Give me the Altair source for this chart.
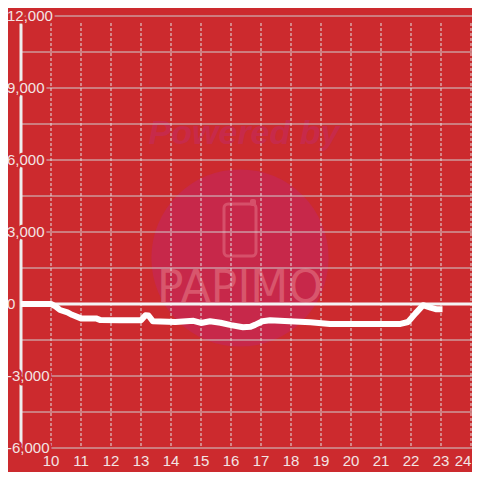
import altair as alt
import pandas as pd

# ---- data ----
hours = [9.0, 10.0, 10.15, 10.3, 10.55, 10.7, 11.0, 11.5, 11.65, 12.3, 13.0, 13.15, 13.25, 13.4,
         14.15, 14.75, 15.0, 15.3, 15.65, 16.0, 16.4, 16.65, 16.8, 17.05, 17.3, 17.95, 18.65,
         19.3, 20.3, 21.65, 21.9, 22.15, 22.4, 22.65, 22.85, 23.05]
values = [0, 0, -100, -250, -350, -450, -600, -600, -670, -680, -680, -470, -480, -720,
          -750, -700, -790, -720, -780, -880, -970, -950, -870, -720, -680, -720, -760,
          -830, -830, -830, -750, -390, -50, -150, -220, -220]

x_ticks = list(range(10, 25))
y_grid = [-6000, -4500, -3000, -1500, 0, 1500, 3000, 4500, 6000, 7500, 9000, 10500, 12000]
y_ticks = [-6000, -3000, 0, 3000, 6000, 9000, 12000]
y_tick_labels = ["-6,000", "-3,000", "0", "3,000", "6,000", "9,000", "12,000"]

BG = "#cc2a2e"
LABEL = "#f3e4e4"

xs = alt.Scale(domain=[9, 9 + 451 / 30], nice=False, zero=False)
ys = alt.Scale(domain=[-6000, 12000], nice=False, zero=False)

series = pd.DataFrame({"hour": hours, "value": values})
vgrid = pd.DataFrame({"hour": x_ticks})
hgrid = pd.DataFrame({"value": y_grid})
ylab = pd.DataFrame({"value": y_ticks, "label": y_tick_labels, "hour": [9] * len(y_ticks)})
xlab = pd.DataFrame({"hour": x_ticks[:-1], "value": [-6000] * (len(x_ticks) - 1)})
xlab_last = pd.DataFrame({"hour": x_ticks[-1:], "value": [-6000]})
axis_df = pd.DataFrame({"hour": [9]})
zero_df = pd.DataFrame({"value": [0]})
one = pd.DataFrame({"a": [0]})

# watermark
circle = alt.Chart(one).mark_circle(size=31416, opacity=1, color="#c7284a").encode(
    x=alt.value(219), y=alt.value(242))
powered = alt.Chart(one).mark_text(
    text="Powered by", font="Liberation Sans", fontSize=34, fontWeight="bold",
    fontStyle="italic", color="#c72a4a", align="center", baseline="middle").encode(
    x=alt.value(223), y=alt.value(118))
phone = alt.Chart(one).mark_rect(
    fillOpacity=0, stroke="#d6506a", strokeWidth=3, cornerRadius=4).encode(
    x=alt.value(203), x2=alt.value(235), y=alt.value(188), y2=alt.value(240))
notch = alt.Chart(one).mark_rect(color="#d6506a", cornerRadius=2).encode(
    x=alt.value(229), x2=alt.value(235), y=alt.value(183), y2=alt.value(190))
papimo = alt.Chart(one).mark_text(
    text="PAPIMO", font="Liberation Sans Narrow, DejaVu Sans", fontSize=44,
    color="#d8566c", align="center", baseline="middle").encode(
    x=alt.value(219), y=alt.value(273))

# grid
hlines = alt.Chart(hgrid).mark_rule(color="#cfcfcf", strokeWidth=1).encode(
    y=alt.Y("value:Q", scale=ys, axis=None))
vlines = alt.Chart(vgrid).mark_rule(color="#e2e2e2", strokeWidth=1, strokeDash=[3, 2]).encode(
    x=alt.X("hour:Q", scale=xs, axis=None), y=alt.value(7), y2=alt.value(432))
axis_line = alt.Chart(axis_df).mark_rule(color="#eeeeee", strokeWidth=3).encode(
    x=alt.X("hour:Q", scale=xs, axis=None))
zero_line = alt.Chart(zero_df).mark_rule(color="#f4f4f4", strokeWidth=3).encode(
    y=alt.Y("value:Q", scale=ys, axis=None))

line = alt.Chart(series).mark_line(color="white", strokeWidth=6, strokeJoin="round").encode(
    x=alt.X("hour:Q", scale=xs, axis=None),
    y=alt.Y("value:Q", scale=ys, axis=None))

# y labels with masking halo
ymask = alt.Chart(ylab).mark_text(
    align="left", baseline="middle", font="Liberation Sans", fontSize=15,
    dx=-14, stroke=BG, strokeWidth=5, strokeJoin="round", fill=BG).encode(
    x=alt.X("hour:Q", scale=xs, axis=None), y=alt.Y("value:Q", scale=ys, axis=None),
    text="label:N")
ytext = alt.Chart(ylab).mark_text(
    align="left", baseline="middle", font="Liberation Sans", fontSize=15,
    dx=-14, color=LABEL).encode(
    x=alt.X("hour:Q", scale=xs, axis=None), y=alt.Y("value:Q", scale=ys, axis=None),
    text="label:N")


def xlabels(df, dx):
    return alt.Chart(df).mark_text(
        align="center", baseline="middle", font="Liberation Sans", fontSize=15,
        dy=13, dx=dx, color=LABEL).encode(
        x=alt.X("hour:Q", scale=xs, axis=None), y=alt.Y("value:Q", scale=ys, axis=None),
        text=alt.Text("hour:Q", format="d"))


xtext = xlabels(xlab, 0)
xtext_last = xlabels(xlab_last, -8)

chart = alt.layer(
    circle, powered, phone, notch, papimo,
    hlines, vlines, axis_line, zero_line, line, ymask, ytext, xtext, xtext_last
).properties(
    width=451, height=432, background=BG,
    autosize=alt.AutoSizeParams(type="none"),
    padding={"left": 13, "top": 8, "right": 0, "bottom": 24},
).configure_view(stroke=None)

chart.save("out.html", embed_options={"renderer": "svg", "actions": False})
